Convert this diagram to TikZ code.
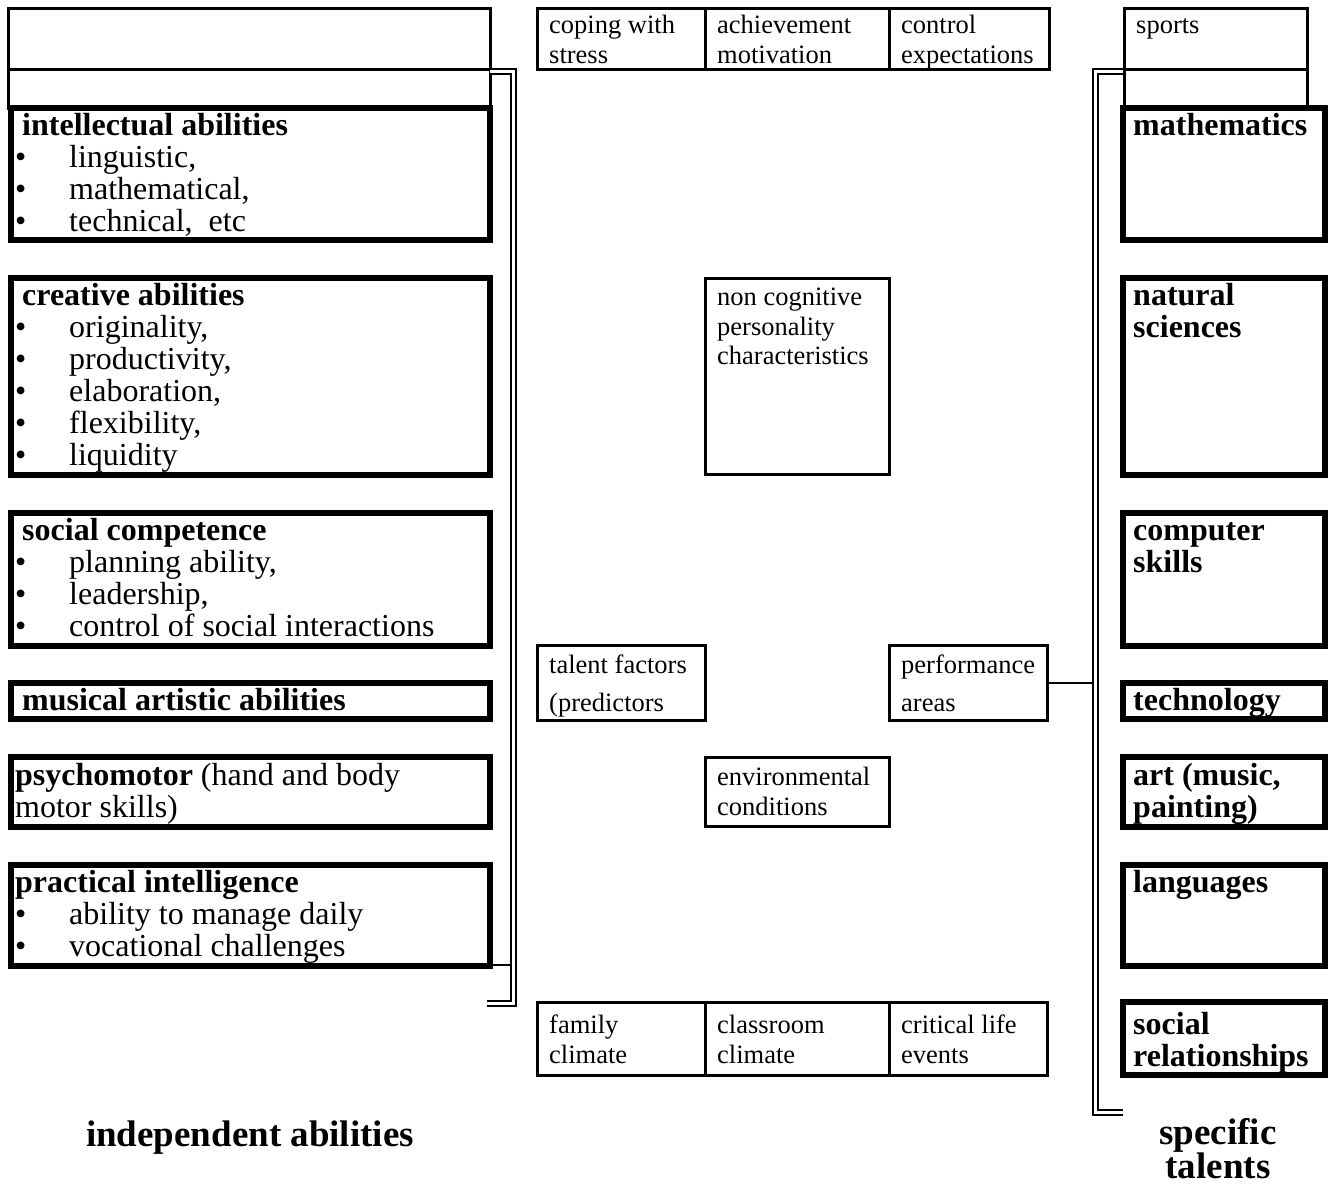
\documentclass[tikz,border=0pt]{standalone}
\usepackage{fontspec}
\setmainfont{Liberation Serif}
\begin{document}
\begin{tikzpicture}[x=1pt,y=-1pt,
  thinbox/.style={draw, line width=3pt, inner sep=0pt, outer sep=0pt, anchor=north west},
  thickbox/.style={draw, line width=5.5pt, inner sep=0pt, outer sep=0pt, anchor=north west},
  sm/.style={inner sep=0pt, anchor=base west, font=\fontsize{26.5}{30}\selectfont},
  bg/.style={inner sep=0pt, anchor=base west, font=\fontsize{32}{32}\selectfont},
  bul/.style={inner sep=0pt, anchor=base west, font=\fontsize{32}{32}\selectfont},
  bgb/.style={inner sep=0pt, anchor=base west, font=\fontsize{32}{32}\selectfont\bfseries},
  lab/.style={inner sep=0pt, font=\fontsize{37}{31}\selectfont\bfseries},
  dbl/.style={double, double distance=3pt, line width=2pt}]
\useasboundingbox (0,0) rectangle (1329,1186);

% ---------- left column ----------
\node[thinbox, minimum width=482pt, minimum height=61pt] (L0) at (8,8) {};
\node[thinbox, minimum width=482pt, minimum height=39pt] (L1) at (8,69) {};
\node[thickbox, minimum width=479pt, minimum height=132pt] (ia) at (11,108) {};
\node[thickbox, minimum width=479pt, minimum height=197pt] (ca) at (11,278) {};
\node[thickbox, minimum width=479pt, minimum height=133pt] (sc) at (11,513) {};
\node[thickbox, minimum width=479pt, minimum height=36pt] (ma) at (11,683) {};
\node[thickbox, minimum width=479pt, minimum height=70pt] (pm) at (11,757) {};
\node[thickbox, minimum width=479pt, minimum height=101pt] (pi) at (11,865) {};

\node[bgb] (iah) at (22,135) {intellectual abilities};
\node[bul] (iab1) at (15,167) {•}; \node[bg] (iat1) at (69,167) {linguistic,};
\node[bul] (iab2) at (15,199) {•}; \node[bg] (iat2) at (69,199) {mathematical,};
\node[bul] (iab3) at (15,231) {•}; \node[bg] (iat3) at (69,231) {technical,\ \ etc};

\node[bgb] (cah) at (22,305) {creative abilities};
\node[bul] (cab1) at (15,337) {•}; \node[bg] (cat1) at (69,337) {originality,};
\node[bul] (cab2) at (15,369) {•}; \node[bg] (cat2) at (69,369) {productivity,};
\node[bul] (cab3) at (15,401) {•}; \node[bg] (cat3) at (69,401) {elaboration,};
\node[bul] (cab4) at (15,433) {•}; \node[bg] (cat4) at (69,433) {flexibility,};
\node[bul] (cab5) at (15,465) {•}; \node[bg] (cat5) at (69,465) {liquidity};

\node[bgb] (sch) at (22,540) {social competence};
\node[bul] (scb1) at (15,572) {•}; \node[bg] (sct1) at (69,572) {planning ability,};
\node[bul] (scb2) at (15,604) {•}; \node[bg] (sct2) at (69,604) {leadership,};
\node[bul] (scb3) at (15,636) {•}; \node[bg] (sct3) at (69,636) {control of social interactions};

\node[bgb] (mah) at (22,710) {musical artistic abilities};

\node[bg] (pmh) at (15,785) {\textbf{psychomotor} (hand and body};
\node[bg] (pmt) at (15,817) {motor skills)};

\node[bgb] (pih) at (15,892) {practical intelligence};
\node[bul] (pib1) at (15,924) {•}; \node[bg] (pit1) at (69,924) {ability to manage daily};
\node[bul] (pib2) at (15,956) {•}; \node[bg] (pit2) at (69,956) {vocational challenges};

% left bracket
\coordinate (lb1) at (490,71);
\coordinate (lb2) at (513.5,71);
\coordinate (lb3) at (513.5,1003.5);
\coordinate (lb4) at (487,1003.5);
\draw[dbl] (lb1) -- (lb2) -- (lb3) -- (lb4);
\coordinate (lbpi) at (511,965);
\draw[line width=2pt] (pi.south east |- lbpi) -- (lbpi);

% ---------- middle ----------
\node[thinbox, minimum width=168pt, minimum height=61pt] (cs) at (537,8) {};
\node[thinbox, minimum width=184pt, minimum height=61pt] (am) at (705,8) {};
\node[thinbox, minimum width=160pt, minimum height=61pt] (ce) at (889,8) {};
\node[sm] (cs1) at (549,33) {coping with}; \node[sm] (cs2) at (549,63) {stress};
\node[sm] (am1) at (717,33) {achievement}; \node[sm] (am2) at (717,63) {motivation};
\node[sm] (ce1) at (901,33) {control}; \node[sm] (ce2) at (901,63) {expectations};

\node[thinbox, minimum width=184pt, minimum height=196pt] (nc) at (705,278) {};
\node[sm] (nc1) at (717,305) {non cognitive};
\node[sm] (nc2) at (717,335) {personality};
\node[sm] (nc3) at (717,364) {characteristics};

\node[thinbox, minimum width=168pt, minimum height=75pt] (tf) at (537,645) {};
\node[sm] (tf1) at (549,673) {talent factors};
\node[sm] (tf2) at (549,711) {(predictors};
\node[thinbox, minimum width=158pt, minimum height=75pt] (pa) at (889,645) {};
\node[sm] (pa1) at (901,673) {performance};
\node[sm] (pa2) at (901,711) {areas};

\node[thinbox, minimum width=184pt, minimum height=69pt] (ec) at (705,757) {};
\node[sm] (ec1) at (717,785) {environmental};
\node[sm] (ec2) at (717,815) {conditions};

\node[thinbox, minimum width=168pt, minimum height=73pt] (fc) at (537,1002) {};
\node[thinbox, minimum width=184pt, minimum height=73pt] (cc) at (705,1002) {};
\node[thinbox, minimum width=158pt, minimum height=73pt] (cl) at (889,1002) {};
\node[sm] (fc1) at (549,1033) {family}; \node[sm] (fc2) at (549,1063) {climate};
\node[sm] (cc1) at (717,1033) {classroom}; \node[sm] (cc2) at (717,1063) {climate};
\node[sm] (cl1) at (901,1033) {critical life}; \node[sm] (cl2) at (901,1063) {events};

% ---------- right column ----------
\node[thinbox, minimum width=183pt, minimum height=61pt] (R0) at (1124,8) {};
\node[thinbox, minimum width=183pt, minimum height=39pt] (R1) at (1124,69) {};
\node[sm] (sp) at (1136,33) {sports};
\node[thickbox, minimum width=202pt, minimum height=132pt] (mt) at (1123,108) {};
\node[thickbox, minimum width=202pt, minimum height=197pt] (ns) at (1123,278) {};
\node[thickbox, minimum width=202pt, minimum height=133pt] (cm) at (1123,513) {};
\node[thickbox, minimum width=202pt, minimum height=36pt] (tc) at (1123,683) {};
\node[thickbox, minimum width=202pt, minimum height=70pt] (ar) at (1123,757) {};
\node[thickbox, minimum width=202pt, minimum height=101pt] (lg) at (1123,865) {};
\node[thickbox, minimum width=202pt, minimum height=73pt] (sr) at (1123,1002) {};

\node[bgb] (mt1) at (1133,135) {mathematics};
\node[bgb] (ns1) at (1133,305) {natural};
\node[bgb] (ns2) at (1133,337) {sciences};
\node[bgb] (cm1) at (1133,540) {computer};
\node[bgb] (cm2) at (1133,572) {skills};
\node[bgb] (tc1) at (1133,710) {technology};
\node[bgb] (ar1) at (1133,785) {art (music,};
\node[bgb] (ar2) at (1133,817) {painting)};
\node[bgb] (lg1) at (1133,892) {languages};
\node[bgb] (sr1) at (1133,1034) {social};
\node[bgb] (sr2) at (1133,1066) {relationships};

% right bracket
\coordinate (rb1) at (1123,71.5);
\coordinate (rb2) at (1095,71.5);
\coordinate (rb3) at (1095,1112.5);
\coordinate (rb4) at (1123,1112.5);
\draw[dbl] (rb1) -- (rb2) -- (rb3) -- (rb4);
\coordinate (rbpa) at (1092,683);
\draw[line width=2.5pt] (pa.east |- rbpa) -- (rbpa);

% ---------- labels ----------
\node[lab, anchor=base] (indep) at (250,1146) {independent abilities};
\node[lab, anchor=north, align=center] (spec) at (1218,1118) {specific\\talents};
\end{tikzpicture}
\end{document}
